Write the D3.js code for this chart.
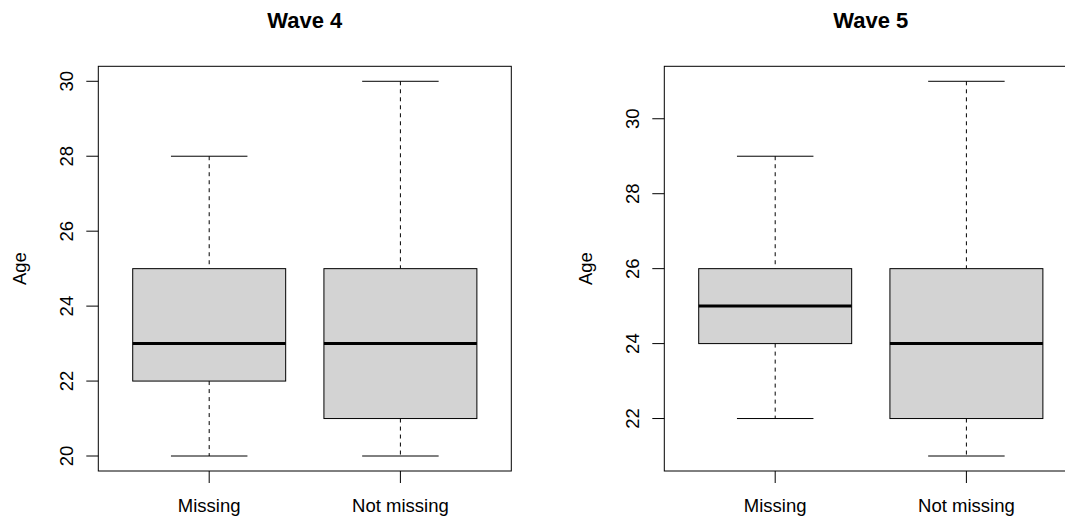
<!DOCTYPE html>
<html>
<head>
<meta charset="utf-8">
<script src="https://cdn.jsdelivr.net/npm/d3@7"></script>
<style>
  html, body { margin: 0; padding: 0; background: #fff; }
  svg { display: block; font-family: "Liberation Sans", Arial, Helvetica, sans-serif; }
</style>
</head>
<body>
<svg id="chart" width="1065" height="519"></svg>
<script>
// Box-plot summaries of age by missingness status, one panel per wave
const groups = ["Missing", "Not missing"];

const wave4Min    = [20, 20];
const wave4Q1     = [22, 21];
const wave4Median = [23, 23];
const wave4Q3     = [25, 25];
const wave4Max    = [28, 30];
const wave4Ticks  = [20, 22, 24, 26, 28, 30];

const wave5Min    = [22, 21];
const wave5Q1     = [24, 22];
const wave5Median = [25, 24];
const wave5Q3     = [26, 26];
const wave5Max    = [29, 31];
const wave5Ticks  = [22, 24, 26, 28, 30];

const panels = [
  { title: "Wave 4", min: wave4Min, q1: wave4Q1, med: wave4Median, q3: wave4Q3, max: wave4Max, ticks: wave4Ticks, left: 98.3 },
  { title: "Wave 5", min: wave5Min, q1: wave5Q1, med: wave5Median, q3: wave5Q3, max: wave5Max, ticks: wave5Ticks, left: 664.3 }
];

const svg = d3.select("#chart");
const plotW = 413, plotTop = 66.3, plotBottom = 471;
const axisFont = 18.5, titleFont = 22;

panels.forEach(p => {
  const g = svg.append("g");
  const lo = d3.min(p.min), hi = d3.max(p.max);
  const pad = (hi - lo) * 0.04;
  const y = d3.scaleLinear().domain([lo - pad, hi + pad]).range([plotBottom, plotTop]);
  const n = groups.length;
  const xpad = n * 0.04;
  const x = d3.scaleLinear().domain([0.5 - xpad, n + 0.5 + xpad]).range([p.left, p.left + plotW]);
  const boxHalf = (x(1.4) - x(1));
  const capHalf = boxHalf * 0.5;

  groups.forEach((name, i) => {
    const cx = x(i + 1);
    // whiskers (dashed)
    g.append("line").attr("x1", cx).attr("x2", cx).attr("y1", y(p.max[i])).attr("y2", y(p.q3[i]))
      .attr("stroke", "#000").attr("stroke-width", 1).attr("stroke-dasharray", "4,4");
    g.append("line").attr("x1", cx).attr("x2", cx).attr("y1", y(p.q1[i])).attr("y2", y(p.min[i]))
      .attr("stroke", "#000").attr("stroke-width", 1).attr("stroke-dasharray", "4,4");
    // staples
    [p.max[i], p.min[i]].forEach(v => {
      g.append("line").attr("x1", cx - capHalf).attr("x2", cx + capHalf).attr("y1", y(v)).attr("y2", y(v))
        .attr("stroke", "#000").attr("stroke-width", 1);
    });
    // box
    g.append("rect").attr("x", cx - boxHalf).attr("y", y(p.q3[i]))
      .attr("width", 2 * boxHalf).attr("height", y(p.q1[i]) - y(p.q3[i]))
      .attr("fill", "#d3d3d3").attr("stroke", "#000").attr("stroke-width", 1);
    // median
    g.append("line").attr("x1", cx - boxHalf).attr("x2", cx + boxHalf).attr("y1", y(p.med[i])).attr("y2", y(p.med[i]))
      .attr("stroke", "#000").attr("stroke-width", 3);
  });

  // plot frame
  g.append("rect").attr("x", p.left).attr("y", plotTop).attr("width", plotW).attr("height", plotBottom - plotTop)
    .attr("fill", "none").attr("stroke", "#000").attr("stroke-width", 1);

  // y axis ticks and rotated labels
  p.ticks.forEach(t => {
    g.append("line").attr("x1", p.left - 12).attr("x2", p.left).attr("y1", y(t)).attr("y2", y(t))
      .attr("stroke", "#000").attr("stroke-width", 1);
    g.append("text").attr("transform", `translate(${p.left - 25.5},${y(t)}) rotate(-90)`)
      .attr("text-anchor", "middle").attr("font-size", axisFont).attr("fill", "#000").text(t);
  });

  // x axis ticks and category labels
  groups.forEach((name, i) => {
    const cx = x(i + 1);
    g.append("line").attr("x1", cx).attr("x2", cx).attr("y1", plotBottom).attr("y2", plotBottom + 12)
      .attr("stroke", "#000").attr("stroke-width", 1);
    g.append("text").attr("x", cx).attr("y", 512).attr("text-anchor", "middle")
      .attr("font-size", axisFont).attr("fill", "#000").text(name);
  });

  // y axis title
  g.append("text").attr("transform", `translate(${p.left - 72},${(plotTop + plotBottom) / 2}) rotate(-90)`)
    .attr("text-anchor", "middle").attr("font-size", axisFont).attr("fill", "#000").text("Age");

  // panel title
  g.append("text").attr("x", p.left + plotW / 2).attr("y", 28).attr("text-anchor", "middle")
    .attr("font-size", titleFont).attr("font-weight", "bold").attr("fill", "#000").text(p.title);
});
</script>
</body>
</html>
